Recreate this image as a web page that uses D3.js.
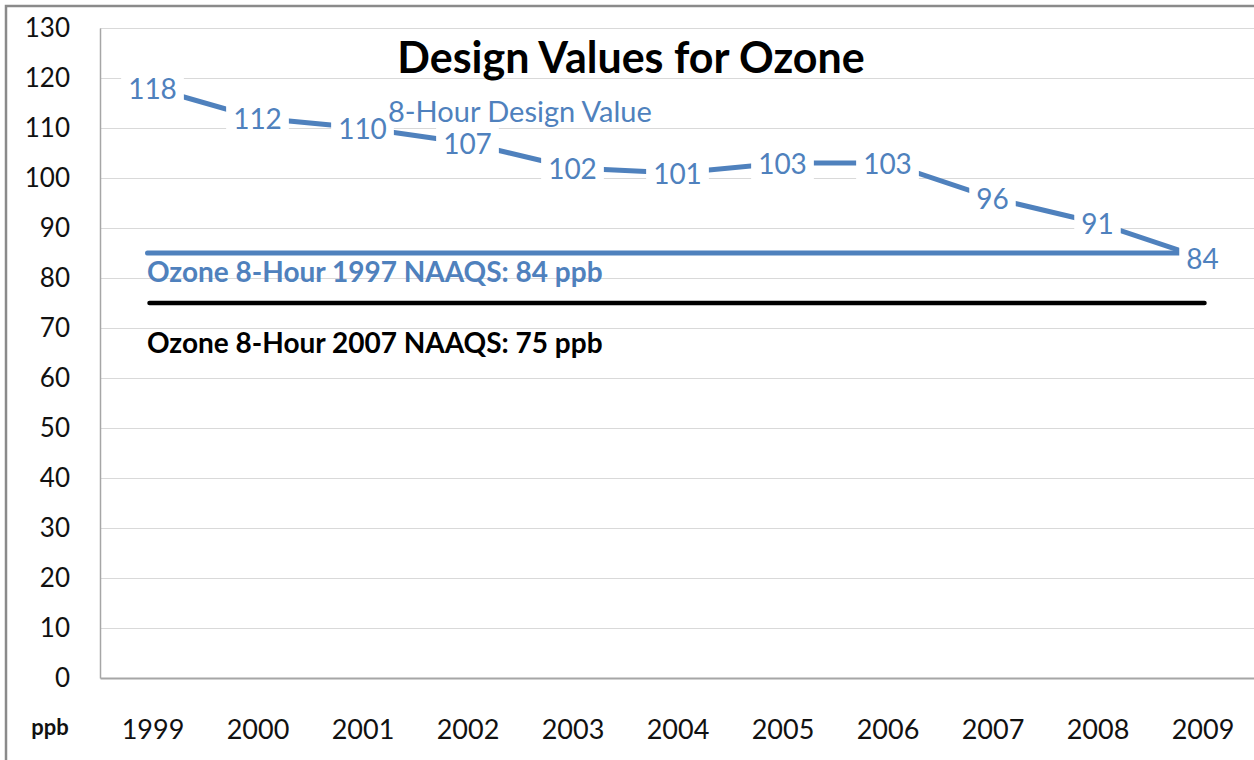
<!DOCTYPE html>
<html>
<head>
<meta charset="utf-8">
<script src="https://cdn.jsdelivr.net/npm/d3@7"></script>
<style>
  body { margin: 0; background: #fff; }
  svg text { font-family: Lato, "Open Sans", sans-serif; }
</style>
</head>
<body>
<div id="chart"></div>
<script>
/* DATA */
const years = ["1999", "2000", "2001", "2002", "2003", "2004", "2005", "2006", "2007", "2008", "2009"];
const designValues = [118, 112, 110, 107, 102, 101, 103, 103, 96, 91, 84];
const naaqs1997 = 85;   // drawn level of the 84 ppb standard
const naaqs2007 = 75;
const yTicks = [0, 10, 20, 30, 40, 50, 60, 70, 80, 90, 100, 110, 120, 130];

/* CONSTANTS */
const width = 1254,
  height = 760,
  margin = { top: 28, bottom: 82, left: 100, right: -1 };

const blue = "#4f81bd";

const svg = d3.select("#chart")
  .append("svg")
  .attr("width", width)
  .attr("height", height);

// outer chart frame (only top/left visible in the shot)
svg.append("path")
  .attr("d", `M6,${height + 5}V6H${width + 5}`)
  .attr("fill", "none")
  .attr("stroke", "#8a8a8a")
  .attr("stroke-width", 2.5);

// scales
const xScale = d3.scalePoint()
  .domain(years)
  .range([margin.left, width - margin.right])
  .padding(0.5);

const yScale = d3.scaleLinear()
  .domain([0, 130])
  .range([height - margin.bottom, margin.top]);

// gridlines
svg.append("g")
  .attr("class", "grid")
  .attr("transform", `translate(${margin.left},0)`)
  .call(d3.axisLeft(yScale).tickValues(yTicks.filter(d => d > 0)).tickSize(-(width - margin.left - margin.right)).tickFormat(""))
  .call(g => g.select(".domain").remove())
  .call(g => g.selectAll("line").attr("stroke", "#d9d9d9").attr("stroke-width", 1.2));

// y axis
svg.append("g")
  .attr("transform", `translate(${margin.left},0)`)
  .call(d3.axisLeft(yScale).tickValues(yTicks).tickSize(0).tickPadding(30))
  .call(g => g.select(".domain").attr("stroke", "#a6a6a6").attr("stroke-width", 1.5))
  .call(g => g.selectAll("text").attr("font-size", 26).attr("fill", "#111"));

// x axis
svg.append("g")
  .attr("transform", `translate(0,${height - margin.bottom})`)
  .call(d3.axisBottom(xScale).tickSize(0).tickPadding(42))
  .call(g => g.select(".domain").attr("stroke", "#a6a6a6").attr("stroke-width", 2))
  .call(g => g.selectAll("text").attr("font-size", 27).attr("fill", "#111"));

svg.append("text")
  .attr("x", 50)
  .attr("y", 735)
  .attr("text-anchor", "middle")
  .attr("font-size", 22)
  .attr("font-weight", "bold")
  .attr("fill", "#111")
  .text("ppb");

// standard lines
const first = xScale(years[0]), last = xScale(years[years.length - 1]);

svg.append("line")
  .attr("x1", first - 5).attr("x2", last)
  .attr("y1", yScale(naaqs1997)).attr("y2", yScale(naaqs1997))
  .attr("stroke", blue)
  .attr("stroke-width", 5)
  .attr("stroke-linecap", "round");

svg.append("line")
  .attr("x1", first - 3).attr("x2", last + 2)
  .attr("y1", yScale(naaqs2007)).attr("y2", yScale(naaqs2007))
  .attr("stroke", "#000")
  .attr("stroke-width", 4.5)
  .attr("stroke-linecap", "round");

svg.append("text")
  .attr("x", 147)
  .attr("y", yScale(naaqs1997) + 29)
  .attr("font-size", 28)
  .attr("font-weight", "bold")
  .attr("fill", blue)
  .text("Ozone 8-Hour 1997 NAAQS: 84 ppb");

svg.append("text")
  .attr("x", 147)
  .attr("y", yScale(naaqs2007) + 50)
  .attr("font-size", 28)
  .attr("font-weight", "bold")
  .attr("fill", "#000")
  .text("Ozone 8-Hour 2007 NAAQS: 75 ppb");

// design value series
const line = d3.line()
  .x((d, i) => xScale(years[i]))
  .y(d => yScale(d));

svg.append("path")
  .datum(designValues)
  .attr("d", line)
  .attr("fill", "none")
  .attr("stroke", blue)
  .attr("stroke-width", 5);

// data labels with white boxes
const labels = svg.append("g")
  .selectAll("g")
  .data(designValues)
  .join("g")
  .attr("transform", (d, i) => `translate(${xScale(years[i])},${yScale(d)})`);

labels.append("text")
  .attr("text-anchor", "middle")
  .attr("dy", "0.4em")
  .attr("font-size", 28)
  .attr("fill", blue)
  .text(d => d);

labels.each(function () {
  const g = d3.select(this);
  const bb = g.select("text").node().getBBox();
  g.insert("rect", "text")
    .attr("x", bb.x - 7)
    .attr("y", bb.y - 2)
    .attr("width", bb.width + 14)
    .attr("height", bb.height + 4)
    .attr("fill", "#fff");
});

svg.append("text")
  .attr("x", 388)
  .attr("y", 122)
  .attr("font-size", 29)
  .attr("fill", blue)
  .text("8-Hour Design Value");

// title
svg.append("text")
  .attr("x", 631)
  .attr("y", 73)
  .attr("text-anchor", "middle")
  .attr("font-size", 43)
  .attr("font-weight", "bold")
  .attr("fill", "#000")
  .text("Design Values for Ozone");
</script>
</body>
</html>
